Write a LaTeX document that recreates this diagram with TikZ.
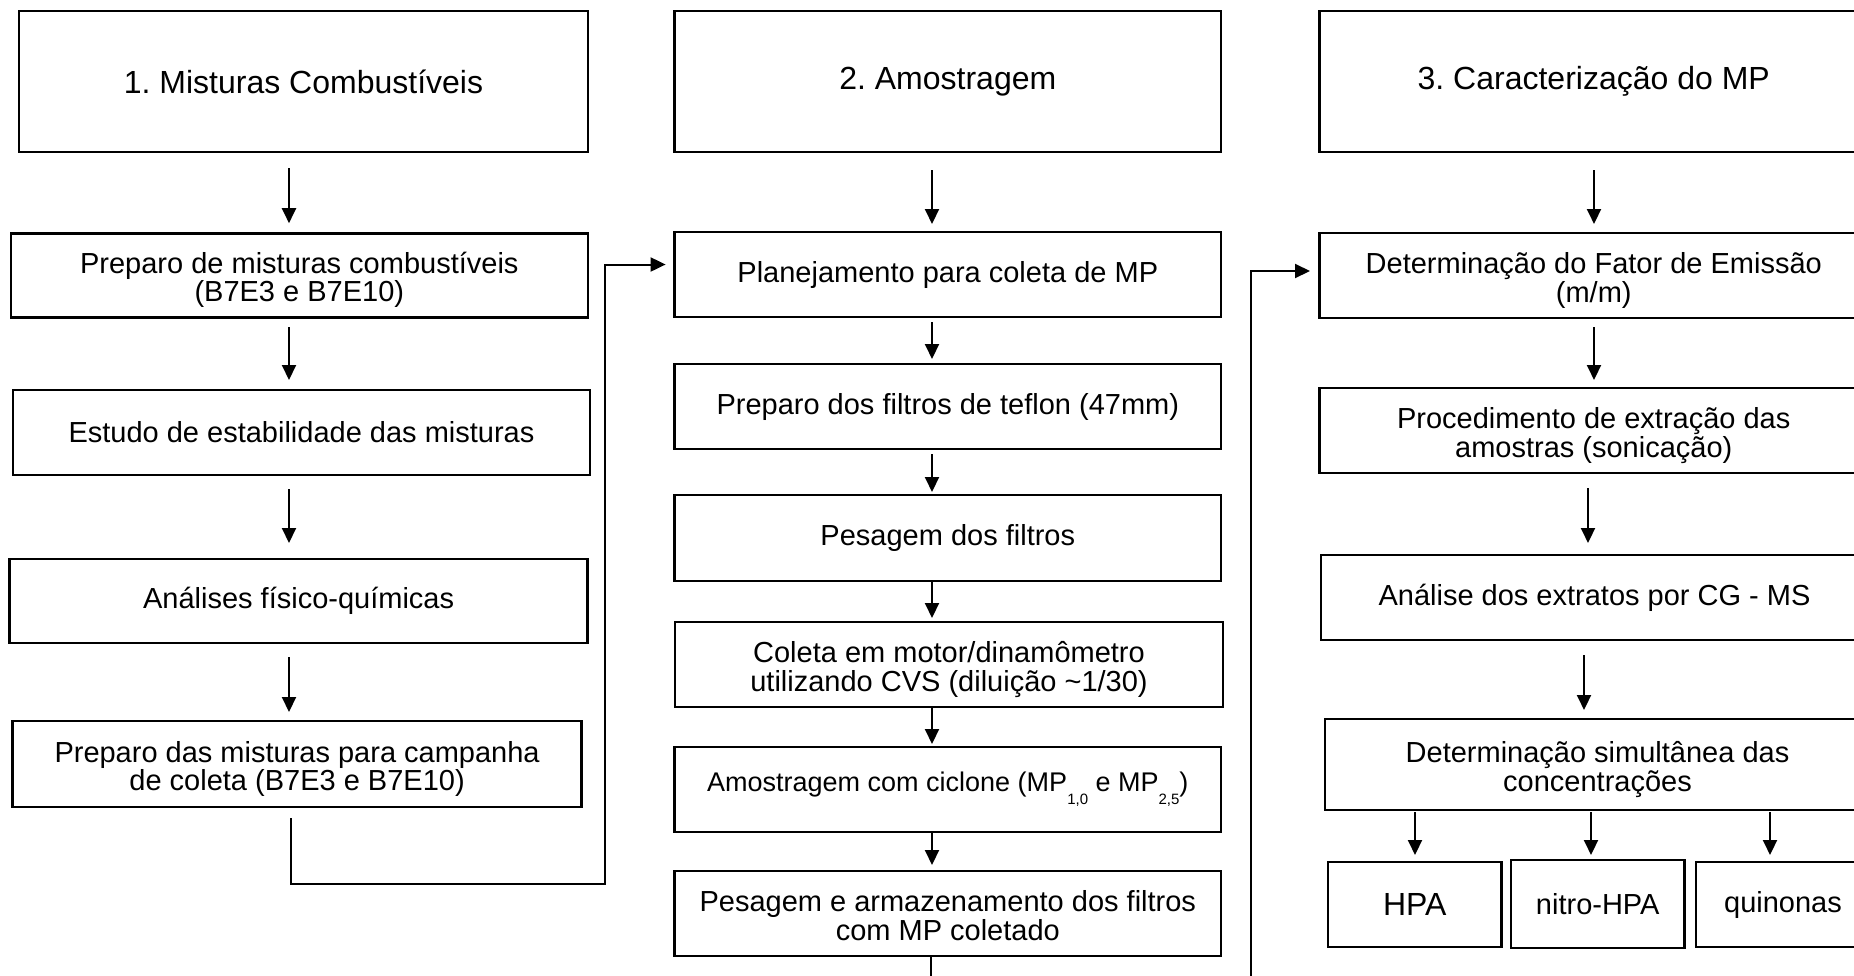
\documentclass[tikz,border=0pt]{standalone}
\usepackage{fontspec}
\setmainfont{Liberation Sans}
\usetikzlibrary{arrows.meta,calc}
\frenchspacing
\begin{document}
\frenchspacing
\begin{tikzpicture}[x=1pt,y=-1pt,
  box/.style={draw, line width=2.6pt, inner sep=0pt, outer sep=0pt, align=center,
    font=\fontsize{29}{28.5}\selectfont},
  twoline/.style={box, text height=58pt, text depth=5pt},
  titlebox/.style={box, font=\fontsize{32}{36}\selectfont},
  arr/.style={line width=2pt, -{Triangle[length=15pt,width=14pt]}}]
\useasboundingbox (0,0) rectangle (1854,975);
\clip (0,0) rectangle (1854,975);

% column 1
\node[titlebox, minimum width=569pt, minimum height=141pt] (T1) at (303.5,81.5) {1. Misturas Combustíveis};
\node[twoline, minimum width=577pt, minimum height=84pt] (A1) at (299.3,275.2) {Preparo de misturas combustíveis\\(B7E3 e B7E10)};
\node[box, minimum width=577pt, minimum height=85pt] (A2) at (301.5,432.5) {Estudo de estabilidade das misturas};
\node[box, minimum width=577.7pt, minimum height=84pt] (A3) at (298.6,601) {Análises físico-químicas};
\node[twoline, minimum width=569pt, minimum height=86pt] (A4) at (297.1,764) {Preparo das misturas para campanha\\de coleta (B7E3 e B7E10)};

% column 2
\node[titlebox, minimum width=546.4pt, minimum height=141pt] (T2) at (947.8,81.5) {2. Amostragem};
\node[box, minimum width=546.4pt, minimum height=85pt] (B1) at (947.8,274.5) {Planejamento para coleta de MP};
\node[box, minimum width=546.4pt, minimum height=85pt] (B2) at (947.8,406.5) {Preparo dos filtros de teflon (47mm)};
\node[box, minimum width=546.4pt, minimum height=86pt] (B3) at (947.8,538) {Pesagem dos filtros};
\node[twoline, minimum width=548pt, minimum height=85pt] (B4) at (949,664.5) {Coleta em motor/dinamômetro\\utilizando CVS (diluição \textasciitilde1/30)};
\node[box, minimum width=546.4pt, minimum height=85pt, font=\fontsize{27}{31}\selectfont] (B5) at (947.8,789.5)
  {Amostragem com ciclone (MP\raisebox{-13pt}{\fontsize{15}{15}\selectfont 1,0} e MP\raisebox{-13pt}{\fontsize{15}{15}\selectfont 2,5})};
\node[twoline, minimum width=546.4pt, minimum height=85pt] (B6) at (947.8,913.5) {Pesagem e armazenamento dos filtros\\com MP coletado};

% column 3
\node[titlebox, minimum width=548.5pt, minimum height=141pt] (T3) at (1593.75,81.5) {3. Caracterização do MP};
\node[twoline, minimum width=548.5pt, minimum height=85pt] (C1) at (1593.75,275.5) {Determinação do Fator de Emissão\\(m/m)};
\node[twoline, minimum width=548.5pt, minimum height=85pt] (C2) at (1593.75,430.5) {Procedimento de extração das\\amostras (sonicação)};
\node[box, minimum width=547pt, minimum height=85pt] (C3) at (1594.5,597.5) {Análise dos extratos por CG - MS};
\node[twoline, minimum width=545pt, minimum height=91pt] (C4) at (1597.5,764.5) {Determinação simultânea das\\concentrações};
\node[box, minimum width=173.6pt, minimum height=85pt, font=\fontsize{32}{36}\selectfont] (D1) at (1414.8,904.5) {HPA};
\node[box, minimum width=173.5pt, minimum height=88pt] (D2) at (1597.75,904) {nitro-HPA};
\node[box, minimum width=174pt, minimum height=85pt] (D3) at (1783,904.5) {quinonas};

% column x positions of the arrows
\coordinate (x1) at (289,0);
\coordinate (x2) at (932,0);
\coordinate (x3) at (1594,0);
\coordinate (x3b) at (1588,0);
\coordinate (x3c) at (1584,0);
\coordinate (xd1) at (1415,0);
\coordinate (xd2) at (1591,0);
\coordinate (xd3) at (1770,0);

% column 1 arrows
\draw[arr, shorten <=16pt, shorten >=10pt] (T1.south -| x1) -- (A1.north -| x1);
\draw[arr, shorten <=10pt, shorten >=10pt] (A1.south -| x1) -- (A2.north -| x1);
\draw[arr, shorten <=14pt, shorten >=16pt] (A2.south -| x1) -- (A3.north -| x1);
\draw[arr, shorten <=14pt, shorten >=9pt] (A3.south -| x1) -- (A4.north -| x1);

% column 2 arrows
\draw[arr, shorten <=18pt, shorten >=8pt] (T2.south -| x2) -- (B1.north -| x2);
\draw[arr, shorten <=5pt, shorten >=5pt] (B1.south -| x2) -- (B2.north -| x2);
\draw[arr, shorten <=5pt, shorten >=3pt] (B2.south -| x2) -- (B3.north -| x2);
\draw[arr, shorten >=4pt] (B3.south -| x2) -- (B4.north -| x2);
\draw[arr, shorten >=3pt] (B4.south -| x2) -- (B5.north -| x2);
\draw[arr, shorten >=6pt] (B5.south -| x2) -- (B6.north -| x2);

% column 3 arrows
\draw[arr, shorten <=18pt, shorten >=9pt] (T3.south -| x3) -- (C1.north -| x3);
\draw[arr, shorten <=9pt, shorten >=8pt] (C1.south -| x3) -- (C2.north -| x3);
\draw[arr, shorten <=15pt, shorten >=12pt] (C2.south -| x3b) -- (C3.north -| x3b);
\draw[arr, shorten <=15pt, shorten >=9pt] (C3.south -| x3c) -- (C4.north -| x3c);
\draw[arr, shorten <=2pt, shorten >=7pt] (C4.south -| xd1) -- (D1.north -| xd1);
\draw[arr, shorten <=2pt, shorten >=5pt] (C4.south -| xd2) -- (D2.north -| xd2);
\draw[arr, shorten <=2pt, shorten >=7pt] (C4.south -| xd3) -- (D3.north -| xd3);

% link column 1 -> column 2
\coordinate (dropL) at (291,884);
\coordinate (riseL) at (605,884);
\coordinate (B1in) at ([yshift=10pt]B1.west);
\draw[arr, shorten <=11pt, shorten >=9pt] (A4.south -| dropL) -- (dropL) -- (riseL) -- (riseL |- B1in) -- (B1in);

% link column 2 -> column 3
\coordinate (dropR) at (931,1000);
\coordinate (riseR) at (1251,1000);
\coordinate (C1in) at ([yshift=4.5pt]C1.west);
\draw[arr, shorten >=9.5pt] (B6.south -| dropR) -- (dropR) -- (riseR) -- (riseR |- C1in) -- (C1in);
\end{tikzpicture}
\end{document}
